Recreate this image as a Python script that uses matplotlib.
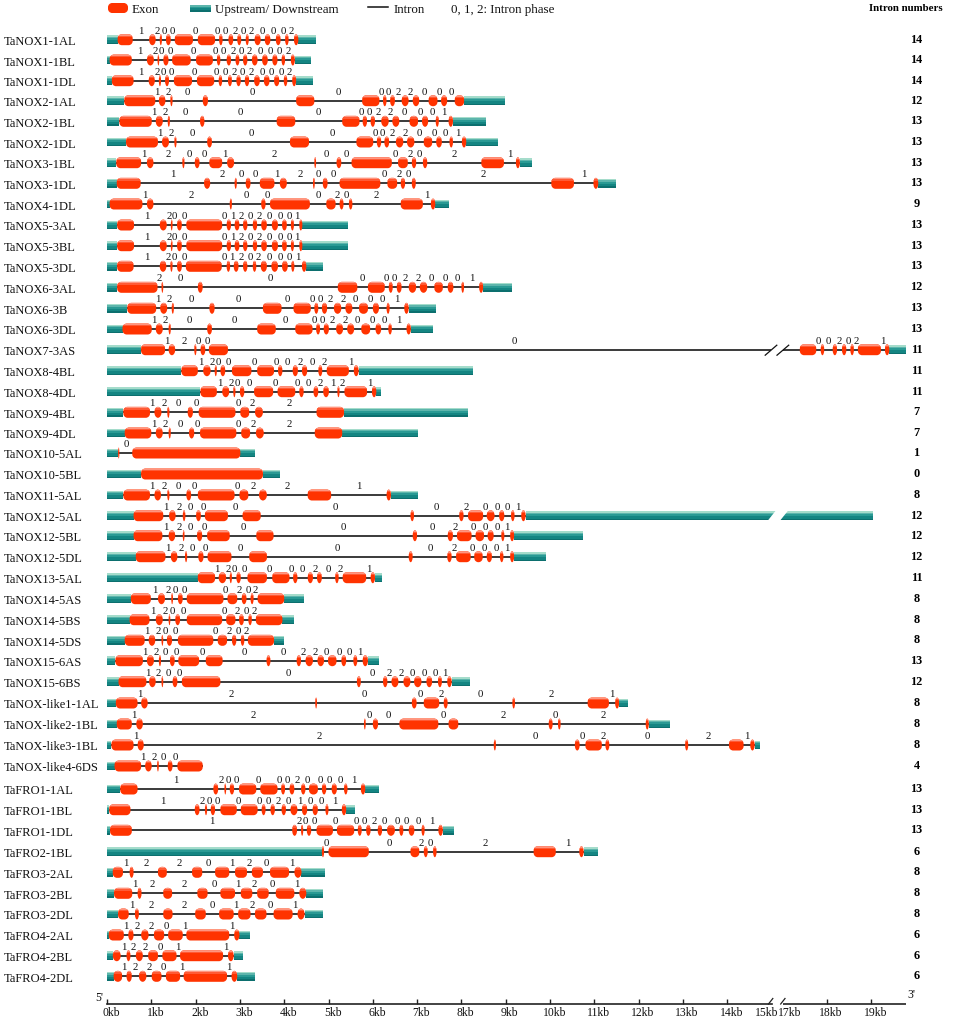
import numpy as np
import matplotlib
matplotlib.use("Agg")
import matplotlib.pyplot as plt
from matplotlib.path import Path
from matplotlib.patches import PathPatch, Rectangle, Polygon

plt.rcParams['font.family'] = ['Liberation Serif', 'DejaVu Serif']

genes = ["TaNOX1-1AL","TaNOX1-1BL","TaNOX1-1DL","TaNOX2-1AL","TaNOX2-1BL","TaNOX2-1DL","TaNOX3-1BL","TaNOX3-1DL",
         "TaNOX4-1DL","TaNOX5-3AL","TaNOX5-3BL","TaNOX5-3DL","TaNOX6-3AL","TaNOX6-3B","TaNOX6-3DL","TaNOX7-3AS",
         "TaNOX8-4BL","TaNOX8-4DL","TaNOX9-4BL","TaNOX9-4DL","TaNOX10-5AL","TaNOX10-5BL","TaNOX11-5AL","TaNOX12-5AL",
         "TaNOX12-5BL","TaNOX12-5DL","TaNOX13-5AL","TaNOX14-5AS","TaNOX14-5BS","TaNOX14-5DS","TaNOX15-6AS","TaNOX15-6BS",
         "TaNOX-like1-1AL","TaNOX-like2-1BL","TaNOX-like3-1BL","TaNOX-like4-6DS","TaFRO1-1AL","TaFRO1-1BL","TaFRO1-1DL",
         "TaFRO2-1BL","TaFRO3-2AL","TaFRO3-2BL","TaFRO3-2DL","TaFRO4-2AL","TaFRO4-2BL","TaFRO4-2DL"]

gene_lengths = [4.71,4.61,4.65,8.98,8.55,8.83,9.60,11.49,7.72,5.43,5.43,4.87,9.14,7.42,7.35,19.78,
                8.27,6.19,8.16,7.02,3.35,3.90,7.02,19.04,10.74,9.92,6.20,4.44,4.21,3.99,6.15,8.19,
                11.76,12.70,14.73,2.16,6.15,5.59,7.83,11.08,4.92,4.88,4.88,3.23,3.08,3.35]

intron_numbers = [14,14,14,12,13,13,13,13,9,13,13,13,12,13,13,11,11,11,7,7,1,0,8,12,12,12,11,8,8,8,13,12,8,8,8,4,13,13,13,6,8,8,8,6,6,6]

phases = ["12000002020002","12000002020002","12000002020002","120000022000","1200000220001","1200000220001",
          "1200120002021","1200120002021","120002021","1200012020001","1200012020001","1200012020001",
          "200000220001","1200000220001","1200000220001","12000002021","12000002021","12000002121",
          "1200022","1200022","0","","12000221","120000020001","120000020001","120000020001","12000002021",
          "12000202","12000202","12000202","1200000220001","120000220001","12002021","12000202","12002021","1200",
          "1200000200001","1200000201001","1200000200001","002021","12201201","12201201","12201201","122011","122011","122011"]

exons = [
 [.24,.58,.95,1.10,1.19,1.24,1.33,1.44,1.53,1.94,2.05,2.44,2.53,2.61,2.74,2.85,2.94,3.03,3.13,3.20,3.33,3.47,3.56,3.69,3.81,3.92,4.02,4.10,4.22,4.32],
 [.06,.56,.90,1.06,1.14,1.18,1.27,1.39,1.47,1.89,2.01,2.39,2.48,2.56,2.70,2.80,2.90,2.99,3.07,3.17,3.27,3.40,3.50,3.63,3.73,3.85,3.94,4.02,4.15,4.24],
 [.11,.60,.94,1.08,1.17,1.22,1.31,1.40,1.51,1.92,2.03,2.42,2.52,2.60,2.73,2.82,2.92,3.02,3.11,3.21,3.32,3.45,3.54,3.67,3.77,3.89,3.99,4.07,4.18,4.27],
 [.39,1.09,1.17,1.32,1.43,1.48,2.16,2.28,4.27,4.68,5.76,6.15,6.23,6.31,6.39,6.50,6.65,6.81,6.90,7.05,7.26,7.46,7.54,7.68,7.85,8.06],
 [.28,1.01,1.10,1.26,1.37,1.42,2.10,2.20,3.83,4.25,5.31,5.70,5.77,5.87,5.95,6.05,6.19,6.36,6.44,6.60,6.83,7.02,7.11,7.25,7.42,7.49,7.71,7.81],
 [.43,1.15,1.24,1.40,1.52,1.57,2.26,2.37,4.13,4.56,5.63,6.01,6.09,6.19,6.26,6.37,6.52,6.69,6.77,6.94,7.15,7.34,7.43,7.56,7.73,7.81,8.01,8.11],
 [.21,.77,.90,1.05,1.70,1.75,1.98,2.09,2.31,2.60,2.71,2.87,4.68,4.72,5.18,5.29,5.52,6.43,6.57,6.79,6.88,6.98,7.13,7.23,8.45,8.96,9.23,9.32],
 [.22,.76,2.19,2.33,2.88,2.93,3.13,3.24,3.45,3.78,3.90,4.06,4.65,4.69,4.87,4.98,5.25,6.17,6.33,6.55,6.63,6.73,6.88,6.97,10.03,10.54,10.98,11.09],
 [.06,.80,.90,1.05,2.77,2.82,3.48,3.58,3.68,4.58,4.95,5.16,5.25,5.34,5.46,5.54,6.63,7.13,7.31,7.41],
 [.23,.61,1.19,1.35,1.44,1.48,1.58,1.69,1.79,2.60,2.70,2.80,2.88,2.99,3.07,3.17,3.29,3.39,3.48,3.61,3.72,3.86,3.95,4.06,4.15,4.22,4.34,4.41],
 [.23,.61,1.19,1.35,1.44,1.48,1.58,1.69,1.79,2.60,2.70,2.80,2.88,2.99,3.07,3.17,3.29,3.39,3.48,3.61,3.72,3.86,3.95,4.06,4.15,4.22,4.34,4.41],
 [.23,.60,1.19,1.34,1.43,1.48,1.58,1.69,1.78,2.59,2.70,2.78,2.86,2.97,3.07,3.17,3.29,3.37,3.47,3.61,3.71,3.86,3.95,4.08,4.16,4.23,4.40,4.50],
 [.23,1.14,1.23,1.27,2.05,2.16,5.21,5.65,5.89,6.27,6.36,6.45,6.54,6.65,6.81,6.98,7.06,7.23,7.39,7.58,7.69,7.82,8.00,8.06,8.40,8.49],
 [.46,1.11,1.20,1.36,1.46,1.51,2.31,2.43,3.52,3.94,4.21,4.60,4.68,4.77,4.85,4.97,5.12,5.29,5.38,5.54,5.69,5.89,6.00,6.14,6.31,6.38,6.71,6.81],
 [.35,1.01,1.10,1.26,1.39,1.44,2.26,2.37,3.39,3.81,4.25,4.64,4.72,4.81,4.89,5.01,5.17,5.33,5.42,5.58,5.74,5.94,6.06,6.19,6.35,6.43,6.76,6.86],
 [.77,1.31,1.39,1.54,1.97,2.02,2.11,2.22,2.30,2.73,17.39,17.76,17.86,17.94,18.13,18.23,18.34,18.44,18.53,18.61,18.70,19.22,19.31,19.41],
 [1.68,2.05,2.17,2.34,2.43,2.48,2.56,2.67,2.82,3.26,3.39,3.77,3.86,3.96,4.19,4.31,4.40,4.52,4.77,4.86,4.96,5.46,5.57,5.68],
 [2.11,2.48,2.60,2.76,2.85,2.90,3.00,3.10,3.32,3.75,3.85,4.25,4.34,4.44,4.66,4.77,4.88,5.01,5.20,5.25,5.36,5.87,5.98,6.08],
 [.37,.97,1.07,1.23,1.36,1.41,1.82,1.94,2.07,2.90,3.01,3.21,3.34,3.52,4.73,5.35],
 [.40,1.00,1.10,1.26,1.39,1.44,1.85,1.97,2.10,2.92,3.03,3.23,3.36,3.54,4.69,5.31],
 [.25,.28,.57,3.01],
 [.77,3.52],
 [.37,.97,1.07,1.22,1.36,1.41,1.79,1.90,2.05,2.88,2.99,3.19,3.43,3.61,4.53,5.06,6.31,6.41],
 [.60,1.27,1.40,1.55,1.71,1.77,2.01,2.12,2.21,2.73,3.06,3.47,6.85,6.93,7.95,8.05,8.15,8.49,8.57,8.75,8.85,8.97,9.12,9.20,9.35,9.45],
 [.60,1.25,1.39,1.54,1.71,1.75,2.03,2.15,2.26,2.77,3.37,3.76,6.90,7.00,7.69,7.81,7.90,8.23,8.32,8.51,8.59,8.73,8.90,8.97,9.10,9.19],
 [.65,1.32,1.44,1.59,1.76,1.81,2.06,2.18,2.27,2.81,3.21,3.61,6.81,6.90,7.68,7.78,7.88,8.21,8.29,8.48,8.57,8.69,8.87,8.95,9.10,9.19],
 [2.05,2.44,2.52,2.69,2.77,2.82,2.92,3.02,3.17,3.61,3.73,4.12,4.20,4.30,4.53,4.65,4.74,4.85,5.15,5.23,5.32,5.85,5.95,6.05],
 [.54,.99,1.15,1.31,1.45,1.49,1.60,1.71,1.80,2.63,2.72,2.94,3.04,3.15,3.24,3.31,3.40,4.00],
 [.51,.96,1.10,1.26,1.39,1.43,1.54,1.65,1.80,2.60,2.69,2.90,2.98,3.09,3.19,3.27,3.36,3.96],
 [.40,.85,.94,1.09,1.23,1.27,1.35,1.47,1.60,2.40,2.50,2.71,2.82,2.92,3.02,3.10,3.18,3.77],
 [.19,.81,.90,1.06,1.17,1.22,1.42,1.53,1.61,2.08,2.23,2.61,3.60,3.69,4.28,4.38,4.48,4.65,4.75,4.90,4.99,5.18,5.29,5.40,5.56,5.65,5.77,5.89],
 [.26,.89,.95,1.10,1.23,1.27,1.48,1.59,1.69,2.56,5.64,5.73,6.23,6.33,6.42,6.58,6.69,6.85,6.93,7.10,7.21,7.34,7.47,7.56,7.68,7.78],
 [.20,.69,.77,.92,4.70,4.74,6.88,6.99,7.15,7.50,7.60,7.69,9.15,9.21,10.85,11.33,11.47,11.56],
 [.22,.56,.66,.81,5.80,5.84,6.00,6.12,6.60,7.48,7.71,7.93,9.97,10.06,10.18,10.24,12.16,12.23],
 [.10,.60,.69,.83,8.73,8.78,10.56,10.67,10.80,11.17,11.25,11.34,13.05,13.12,14.04,14.37,14.52,14.62],
 [.17,.77,.86,1.01,1.13,1.17,1.37,1.48,1.59,2.16],
 [.30,.69,2.40,2.51,2.65,2.69,2.77,2.87,2.98,3.37,3.46,3.85,3.93,4.02,4.12,4.23,4.38,4.48,4.56,4.76,4.85,4.95,5.07,5.19,5.35,5.43,5.73,5.83],
 [.05,.53,1.98,2.09,2.21,2.26,2.34,2.44,2.56,2.93,3.02,3.40,3.49,3.58,3.69,3.79,3.94,4.04,4.14,4.30,4.40,4.52,4.64,4.76,4.93,5.00,5.30,5.40],
 [.07,.56,4.18,4.29,4.38,4.43,4.51,4.61,4.73,5.10,5.19,5.58,5.66,5.75,5.85,5.95,6.11,6.21,6.32,6.50,6.60,6.69,6.81,6.94,7.10,7.17,7.48,7.58],
 [4.85,4.90,5.00,5.91,6.85,7.05,7.15,7.24,7.36,7.44,9.63,10.13,10.66,10.76],
 [.13,.36,.51,.60,1.15,1.35,1.92,2.15,2.44,2.76,2.89,3.16,3.27,3.52,3.68,4.11,4.23,4.39],
 [.16,.57,.69,.78,1.27,1.47,2.04,2.27,2.56,2.89,3.02,3.28,3.39,3.65,3.81,4.23,4.34,4.50],
 [.25,.49,.63,.72,1.27,1.48,1.99,2.23,2.53,2.86,2.96,3.24,3.34,3.60,3.76,4.19,4.30,4.46],
 [.04,.38,.48,.60,.77,.94,1.06,1.29,1.38,1.71,1.79,2.76,2.87,2.99],
 [.13,.31,.44,.53,.65,.81,.93,1.15,1.25,1.57,1.65,2.62,2.73,2.86],
 [.15,.34,.44,.56,.72,.89,1.01,1.23,1.33,1.65,1.73,2.71,2.81,2.94],
]

row_y = [40.7,61,81.7,101.7,122.3,143,163.7,184.3,205,226,246.7,267.3,288.3,309.3,330,350.7,371.7,392.7,413.3,434,454,475,496,
         516.7,536.7,557.7,578.7,599.7,620.7,641.3,661.7,682.7,704,725,746,767,790,810.7,831.3,852.7,873.3,894.3,915,936,956.7,977.3]

axis_kb = [0,1,2,3,4,5,6,7,8,9,10,11,12,13,14,15,17,18,19]
broken_intron_gene = "TaNOX7-3AS"
broken_utr_gene = "TaNOX12-5AL"

PX_PER_KB = 44.3
X0 = 107
RED, RED_TOP, RED_MID = '#FF3300', '#FF9580', '#FF5A35'
TEAL_STRIPES = [(0, .14, '#A5DCCB'), (.14, .3, '#5DB5AC'), (.3, .55, '#2A9A94'), (.55, .85, '#148582'), (.85, 1, '#0C6F6E')]


def fwd(x):
    x = np.asarray(x, float)
    return np.where(x <= 15, x, np.where(x >= 17, x - 1.75, 15 + (x - 15) * .125))


def inv(y):
    y = np.asarray(y, float)
    return np.where(y <= 15, y, np.where(y >= 15.25, y + 1.75, 15 + (y - 15) * 8))


def from_px(p):
    return float(inv((p - X0) / PX_PER_KB))


fig = plt.figure(figsize=(9.64, 10.2), dpi=100)
ax = fig.add_axes([0, 0, 1, 1])
ax.set_xscale('function', functions=(fwd, inv))
ax.set_xlim(from_px(0), from_px(964))
ax.set_ylim(1020, 0)
for s in ['top', 'left', 'right']:
    ax.spines[s].set_visible(False)
ax.patch.set_visible(False)
ax.yaxis.set_visible(False)


def draw_utr(a, b, yc, h=8.5):
    if b - a <= 0:
        return
    for f0, f1, c in TEAL_STRIPES:
        ax.add_patch(Rectangle((a, yc - h / 2 + f0 * h), b - a, (f1 - f0) * h, fc=c, ec='none', lw=0, zorder=2))


def exon_path(a, b, yc, h=11.0):
    w = b - a
    rx = min(4.2 / PX_PER_KB, w / 2)
    ry = 4.2 if w > 2 * 4.2 / PX_PER_KB else h / 2
    k = .5523
    t, m = yc - h / 2, yc + h / 2
    verts = [(a + rx, t), (b - rx, t),
             (b - rx + k * rx, t), (b, t + ry - k * ry), (b, t + ry),
             (b, m - ry),
             (b, m - ry + k * ry), (b - rx + k * rx, m), (b - rx, m),
             (a + rx, m),
             (a + rx - k * rx, m), (a, m - ry + k * ry), (a, m - ry),
             (a, t + ry),
             (a, t + ry - k * ry), (a + rx - k * rx, t), (a + rx, t),
             (a + rx, t)]
    codes = [Path.MOVETO, Path.LINETO, Path.CURVE4, Path.CURVE4, Path.CURVE4, Path.LINETO,
             Path.CURVE4, Path.CURVE4, Path.CURVE4, Path.LINETO, Path.CURVE4, Path.CURVE4, Path.CURVE4,
             Path.LINETO, Path.CURVE4, Path.CURVE4, Path.CURVE4, Path.CLOSEPOLY]
    return Path(verts, codes)


def draw_exon(a, b, yc, h=11.0):
    patch = PathPatch(exon_path(a, b, yc, h), fc=RED, ec='none', lw=0, zorder=3)
    ax.add_patch(patch)
    for f0, f1, c in [(0, .12, RED_TOP), (.12, .26, RED_MID)]:
        r = Rectangle((a, yc - h / 2 + f0 * h), b - a, (f1 - f0) * h, fc=c, ec='none', lw=0, zorder=3.1)
        ax.add_patch(r)
        r.set_clip_path(patch)


for name, total, ph, ex, yc, nint in zip(genes, gene_lengths, phases, exons, row_y, intron_numbers):
    starts, ends = ex[0::2], ex[1::2]
    ax.text(from_px(3.6), yc + 1.5, name, fontsize=9, va='center', ha='left', color='#111111')
    ax.text(from_px(916.5), yc - 1, str(nint), fontsize=8.8, fontweight='bold', va='center', ha='center', color='black')
    ax.plot([starts[0], ends[-1]], [yc, yc], color='#222222', lw=1.25, zorder=1, solid_capstyle='butt')
    draw_utr(0, starts[0], yc)
    draw_utr(ends[-1], total, yc)
    for a, b in zip(starts, ends):
        draw_exon(a, b, yc)
    for i, p in enumerate(ph):
        mid = inv((fwd(ends[i]) + fwd(starts[i + 1])) / 2)
        ax.text(float(mid), yc - 9.4, p, fontsize=7.8, ha='center', va='center', color='#111111', zorder=4)
    if name == broken_intron_gene:
        ax.add_patch(Rectangle((from_px(771), yc - 2), from_px(783) - from_px(771), 4, fc='white', ec='none', zorder=1.5))
        for p0, p1 in [(765.2, 776.8), (777, 788.7)]:
            ax.plot([from_px(p0), from_px(p1)], [yc + 5.5, yc - 4.5], color='#111111', lw=.9, zorder=2)
    if name == broken_utr_gene:
        ax.add_patch(Polygon([(from_px(767.7), yc + 5), (from_px(775.7), yc - 5), (from_px(788), yc - 5), (from_px(780), yc + 5)],
                             fc='white', ec='none', zorder=2.5))

# axis
AXIS_Y = 1004.7
ax.spines['bottom'].set_position(('data', AXIS_Y))
ax.spines['bottom'].set_bounds(0, 15)
ax.spines['bottom'].set_linewidth(1.2)
ax.spines['bottom'].set_color('#222222')
ax.plot([from_px(783), from_px(906)], [AXIS_Y, AXIS_Y], color='#222222', lw=1.2, zorder=1, solid_capstyle='butt')
ax.set_xticks([k for k in axis_kb if k not in (15, 17)])
ax.set_xticks([], minor=True)
ax.tick_params(axis='x', which='major', direction='in', length=3.4, width=1.0, color='#222222', labelbottom=False)
for k in axis_kb:
    shift = {15: -4.5, 17: 7.6}.get(k, 4.2)
    ax.annotate(f"{k}kb", (k, AXIS_Y), xytext=(shift * .72, -8.6 * .72), textcoords='offset points',
                ha='center', va='center', fontsize=8.4, color='#111111')
for p0, p1 in [(768.5, 772.8), (780.7, 785)]:
    ax.plot([from_px(p0), from_px(p1)], [AXIS_Y + .3, AXIS_Y - 5.2], color='#222222', lw=.9)
ax.text(from_px(99), 998, "5'", fontsize=8.4, ha='center', va='center', color='#111111')
ax.text(from_px(911), 995, "3'", fontsize=8.4, ha='center', va='center', color='#111111')

# legend
LEG_Y = 9
ax.add_patch(PathPatch(exon_path(from_px(108), from_px(128), LEG_Y, 10), fc=RED, ec='none', zorder=3))
draw_utr(from_px(190), from_px(211), LEG_Y, 7)
ax.plot([from_px(368), from_px(388)], [LEG_Y - 1, LEG_Y - 1], color='#111111', lw=1.1)
for px, s in [(132, 'Exon'), (215, 'Upstream/ Downstream'), (394, 'Intron'), (451, '0, 1, 2: Intron phase')]:
    ax.text(from_px(px), LEG_Y + 1, s, fontsize=9.4, ha='left', va='center', color='#111111')
ax.text(from_px(906), 8.5, 'Intron numbers', fontsize=7.8, fontweight='bold', ha='center', va='center', color='black')

fig.savefig('out.png', dpi=100)
